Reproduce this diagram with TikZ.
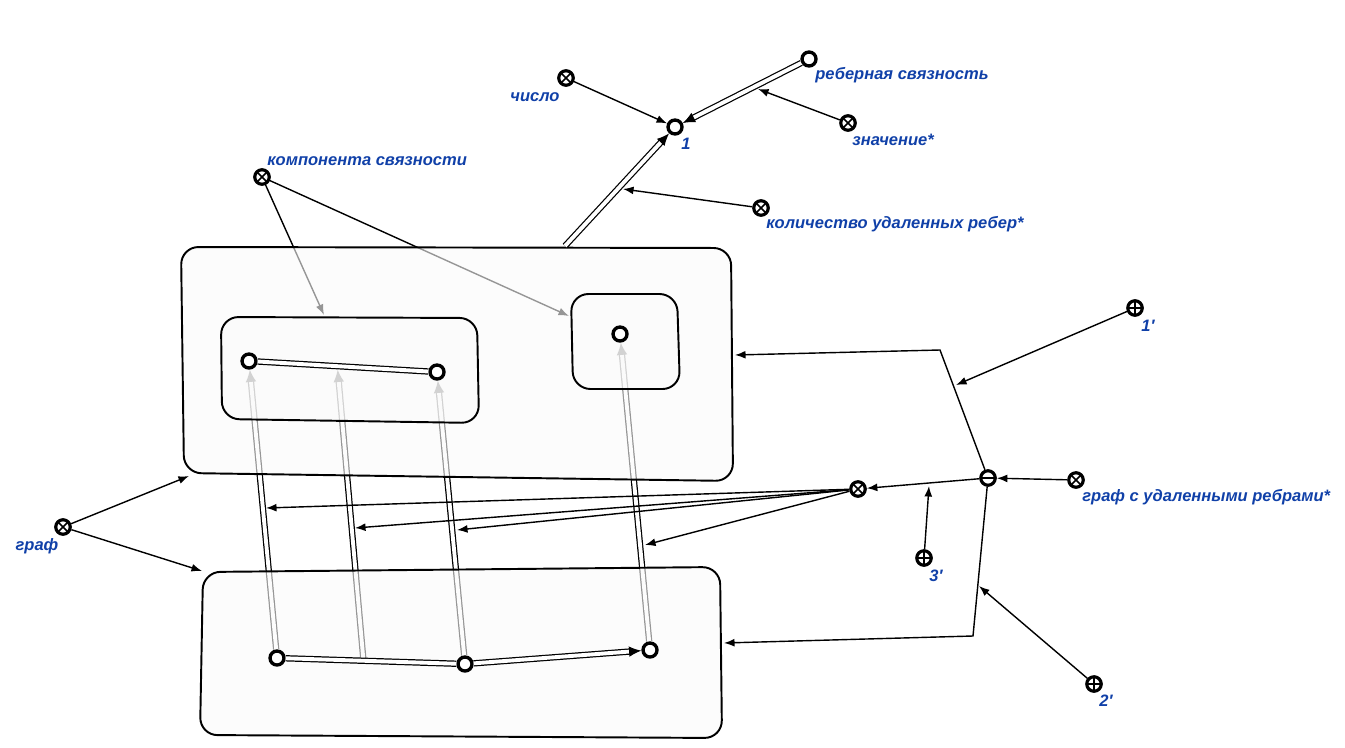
\documentclass[tikz,border=0pt]{standalone}
\usepackage{fontspec}
\setmainfont{Liberation Sans}
\usetikzlibrary{arrows.meta,calc}
\definecolor{lblue}{RGB}{16,64,168}
\pgfdeclarelayer{under}
\pgfdeclarelayer{boxes}
\pgfsetlayers{under,boxes,main}
\tikzset{
	vtx/.style={circle,draw,line width=1.9pt,fill=white,minimum size=0.28cm,inner sep=0pt}, % plain vertex
	opnode/.style={circle,draw,line width=1.8pt,fill=white,minimum size=0.29cm,inner sep=0pt},
	xnode/.style={opnode,path picture={
		\draw[line width=0.9pt] ([shift={(-0.1cm,-0.1cm)}]path picture bounding box.center) -- ([shift={(0.1cm,0.1cm)}]path picture bounding box.center)
			([shift={(-0.1cm,0.1cm)}]path picture bounding box.center) -- ([shift={(0.1cm,-0.1cm)}]path picture bounding box.center);}},
	pnode/.style={opnode,path picture={
		\draw[line width=0.9pt] ([xshift=-0.15cm]path picture bounding box.center) -- ([xshift=0.15cm]path picture bounding box.center)
			([yshift=-0.15cm]path picture bounding box.center) -- ([yshift=0.15cm]path picture bounding box.center);}},
	mnode/.style={opnode,path picture={
		\draw[line width=1.2pt] ([xshift=-0.15cm]path picture bounding box.center) -- ([xshift=0.15cm]path picture bounding box.center);}},
	lbl/.style={text=lblue,font=\fontsize{9.4}{11}\selectfont\bfseries\itshape,inner sep=0pt},
	arr/.style={line width=0.8pt,-{Latex[length=6pt,width=4.5pt]}},
	dbl/.style={double,double distance=2.2pt,line width=0.7pt,-{Latex[length=7pt,width=6pt]}},
	dbln/.style={double,double distance=2.2pt,line width=0.7pt},
	box/.style={draw,line width=1.1pt,fill=black!2,fill opacity=0.6,rounded corners=0.35cm}
}
\begin{document}
\begin{tikzpicture}[x=0.02cm,y=-0.02cm]
	\useasboundingbox (0,0) rectangle (1345,747);
	% Vertices
	\node[vtx] (one) at (675,127) {};
	\node[vtx] (rs) at (809,59) {};
	\node[vtx] (a1) at (249,361) {};
	\node[vtx] (a2) at (437,372) {};
	\node[vtx] (c1) at (620,334) {};
	\node[vtx] (b1) at (277,658) {};
	\node[vtx] (b2) at (465,664) {};
	\node[vtx] (b3) at (650,650) {};
	% Operators
	\node[xnode] (num) at (566,78) {};
	\node[xnode] (val) at (848,123) {};
	\node[xnode] (cnt) at (761,208) {};
	\node[xnode] (comp) at (262,177) {};
	\node[xnode] (graph) at (63,527) {};
	\node[xnode] (mx) at (858,489) {};
	\node[xnode] (gdel) at (1076,480) {};
	\node[mnode] (minus) at (988,478) {};
	\node[pnode] (p1) at (1135,308) {};
	\node[pnode] (p2) at (1094,684) {};
	\node[pnode] (p3) at (924,558) {};
	% Labels
	\node[lbl] (num-l) at (535,97) {число};
	\node[lbl] (one-l) at (686,144) {1};
	\node[lbl,anchor=west] (rs-l) at (815,75) {реберная связность};
	\node[lbl,anchor=west] (val-l) at (852,140) {значение*};
	\node[lbl,anchor=west] (cnt-l) at (766,224) {количество удаленных ребер*};
	\node[lbl,anchor=west] (comp-l) at (267,161) {компонента связности};
	\node[lbl] (graph-l) at (37,546) {граф};
	\node[lbl,anchor=west] (gdel-l) at (1082,497) {граф с удаленными ребрами*};
	\node[lbl] (p1-l) at (1148,326) {1′};
	\node[lbl] (p3-l) at (936,576) {3′};
	\node[lbl] (p2-l) at (1106,701) {2′};
	% Free ends on boxes and lines
	\coordinate (up-top) at (565,246);
	\coordinate (up-bl) at (189,476);
	\coordinate (up-r) at (735,355);
	\coordinate (lo-tl) at (202,571);
	\coordinate (lo-r) at (724,643);
	\coordinate (in-l) at (324,315);
	\coordinate (in-r) at (569,316);
	\coordinate (bend1) at (940,350);
	\coordinate (bend2) at (973,636);
	\coordinate (k1) at (956,385);
	\coordinate (k2) at (979,586);
	\coordinate (h1) at (266,508);
	\coordinate (h2) at (355,528);
	\coordinate (h3) at (457,530);
	\coordinate (h4) at (645,545);
	\coordinate (rs-m) at (758,89);
	\coordinate (top-m) at (623,189);
	\coordinate (mx-m) at (929,486);
	% Links under the boxes
	\begin{pgfonlayer}{under}
		\draw[dbl] (b1) -- (a1);
		\draw[dbl,shorten >=2pt] ($(b1)!0.46!(b2)$) -- ($(a1)!0.47!(a2)$);
		\draw[dbl] (b2) -- (a2);
		\draw[dbl] (b3) -- (c1);
		\draw[arr] (comp) -- (in-l);
		\draw[arr] (comp) -- (in-r);
	\end{pgfonlayer}
	% Boxes
	\begin{pgfonlayer}{boxes}
		\draw[box] (181,247) -- (731,248) -- (733,481) -- (184,473) -- cycle;
		\draw[box] (221,317) -- (477,318) -- (479,423) -- (222,419) -- cycle;
		\draw[box] (571,294) -- (677,294) -- (680,389) -- (573,389) -- cycle;
		\draw[box] (203,572) -- (720,567) -- (722,738) -- (200,735) -- cycle;
	\end{pgfonlayer}
	% Links
	\draw[dbln] (a1) -- (a2);
	\draw[dbln] (b1) -- (b2);
	\draw[dbl] (b2) -- (b3);
	\draw[dbl] (rs) -- (one);
	\draw[dbl] (up-top) -- (one);
	\draw[arr] (num) -- (one);
	\draw[arr] (val) -- (rs-m);
	\draw[arr] (cnt) -- (top-m);
	\draw[arr] (graph) -- (up-bl);
	\draw[arr] (graph) -- (lo-tl);
	\foreach \h in {h1,h2,h3,h4}
		\draw[arr] (mx) -- (\h);
	\draw[arr] (minus) -- (mx);
	\draw[arr] (p3) -- (mx-m);
	\draw[arr] (gdel) -- (minus);
	\draw[arr] (minus) -- (bend1) -- (up-r);
	\draw[arr] (p1) -- (k1);
	\draw[arr] (minus) -- (bend2) -- (lo-r);
	\draw[arr] (p2) -- (k2);
\end{tikzpicture}
\end{document}
